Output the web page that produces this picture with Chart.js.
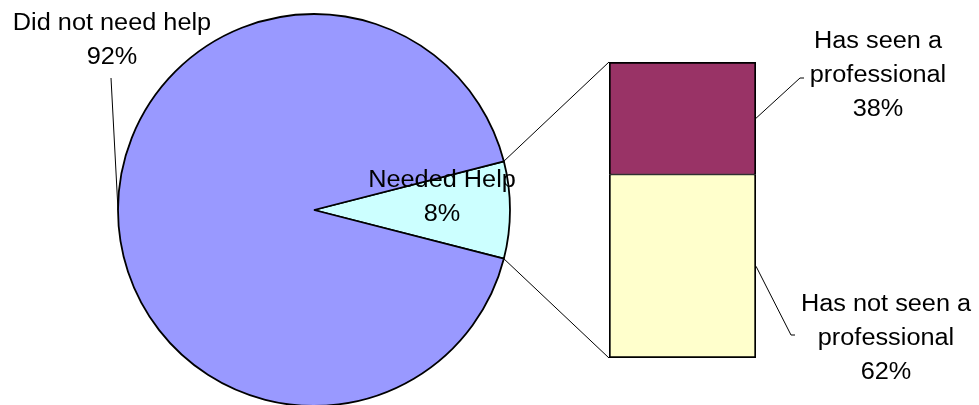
<!DOCTYPE html>
<html>
<head>
<meta charset="utf-8">
<script src="https://cdn.jsdelivr.net/npm/chart.js@4.4.1/dist/chart.umd.min.js"></script>
<style>
  html, body { margin: 0; padding: 0; background: #fff; }
  #wrap { position: relative; width: 979px; height: 405px; overflow: hidden; background: #fff; }
  canvas { position: absolute; }
  #pieCanvas { left: 114px; top: 10px; }
  #barCanvas { left: 609px; top: 62px; }
  #overlay { left: 0; top: 0; z-index: 5; }
</style>
</head>
<body>
<div id="wrap">
  <canvas id="pieCanvas" width="400" height="400"></canvas>
  <canvas id="barCanvas" width="147" height="296"></canvas>
  <canvas id="overlay" width="979" height="405"></canvas>
</div>
<script>
// pie: who needed help
var pieLabels = [['Needed Help'], ['Did not need help']];
var pieValues = [8, 92];
var pieColors = ['#CCFFFF', '#9999FF'];

// bar: split of "Needed Help" (bottom segment first)
var barLabels = [['Has not seen a', 'professional'], ['Has seen a', 'professional']];
var barValues = [62, 38];
var barColors = ['#FFFFCC', '#993366'];

var pieLeft = 114, pieTop = 10;
var barLeft = 609, barTop = 62;

// small slice centred on 3 o'clock
var rot = 90 - pieValues[0] * 3.6 / 2;

var pieChart = new Chart(document.getElementById('pieCanvas'), {
    type: 'pie',
    data: {
        labels: pieLabels,
        datasets: [{
            data: pieValues,
            backgroundColor: pieColors,
            borderColor: '#000',
            borderWidth: 1.8
        }]
    },
    options: {
        responsive: false,
        animation: false,
        radius: 196,
        rotation: rot,
        layout: { padding: 0 },
        plugins: { legend: { display: false }, tooltip: { enabled: false } }
    }
});

// shared edge gets 1px from each segment so it isn't doubled
var barBorders = [
    { top: 1, bottom: 2, left: 2, right: 2 },
    { top: 2, bottom: 1, left: 2, right: 2 }
];

var barChart = new Chart(document.getElementById('barCanvas'), {
    type: 'bar',
    data: {
        labels: [''],
        datasets: barValues.map(function (v, i) {
            return {
                label: barLabels[i].join(' '),
                data: [v],
                backgroundColor: barColors[i],
                borderColor: '#000',
                borderWidth: barBorders[i],
                borderSkipped: false,
                barPercentage: 1,
                categoryPercentage: 1
            };
        })
    },
    options: {
        responsive: false,
        animation: false,
        layout: { padding: 0 },
        scales: {
            x: { display: false, stacked: true },
            y: { display: false, stacked: true, min: 0, max: 100 }
        },
        plugins: { legend: { display: false }, tooltip: { enabled: false } }
    }
});

// overlay: connectors, leader lines, labels
var ctx = document.getElementById('overlay').getContext('2d');

function line(pts) {
    ctx.beginPath();
    ctx.moveTo(pts[0][0], pts[0][1]);
    for (var i = 1; i < pts.length; i++) ctx.lineTo(pts[i][0], pts[i][1]);
    ctx.stroke();
}

function label(lines, cx, baseY) {
    ctx.font = '23px "Liberation Sans", Arial, sans-serif';
    ctx.fillStyle = '#000';
    ctx.textAlign = 'center';
    ctx.textBaseline = 'alphabetic';
    for (var i = 0; i < lines.length; i++) {
        ctx.save();
        ctx.translate(cx, baseY + i * 34);
        ctx.scale(1.1, 1);
        ctx.fillText(lines[i], 0, 0);
        ctx.restore();
    }
}

var arcs = pieChart.getDatasetMeta(0).data;
var small = arcs[0], big = arcs[1];
var cx = pieLeft + small.x, cy = pieTop + small.y, r = small.outerRadius;
function onPie(a) { return [cx + r * Math.cos(a), cy + r * Math.sin(a)]; }

var bottomSeg = barChart.getDatasetMeta(0).data[0];
var topSeg = barChart.getDatasetMeta(1).data[0];
var bl = barLeft + bottomSeg.x - bottomSeg.width / 2;
var br = barLeft + bottomSeg.x + bottomSeg.width / 2;

ctx.strokeStyle = '#000';
ctx.lineWidth = 1;
// pie -> bar connectors
line([onPie(small.startAngle), [bl, barTop + topSeg.y]]);
line([onPie(small.endAngle), [bl, barTop + bottomSeg.base]]);

// leader lines
var bigMid = (big.startAngle + big.endAngle) / 2;
line([[111, 78], onPie(bigMid)]);
var topMid = barTop + (topSeg.y + topSeg.base) / 2;
var botMid = barTop + (bottomSeg.y + bottomSeg.base) / 2;
line([[br, topMid], [800, 78], [804, 78]]);
line([[br, botMid], [791, 335], [795, 335]]);

// data labels
label([pieLabels[1][0], pieValues[1] + '%'], 112, 30);
label([pieLabels[0][0], pieValues[0] + '%'], 442, 187);
label(barLabels[1].concat([barValues[1] + '%']), 878, 48);
label(barLabels[0].concat([barValues[0] + '%']), 886, 311);
</script>
</body>
</html>
